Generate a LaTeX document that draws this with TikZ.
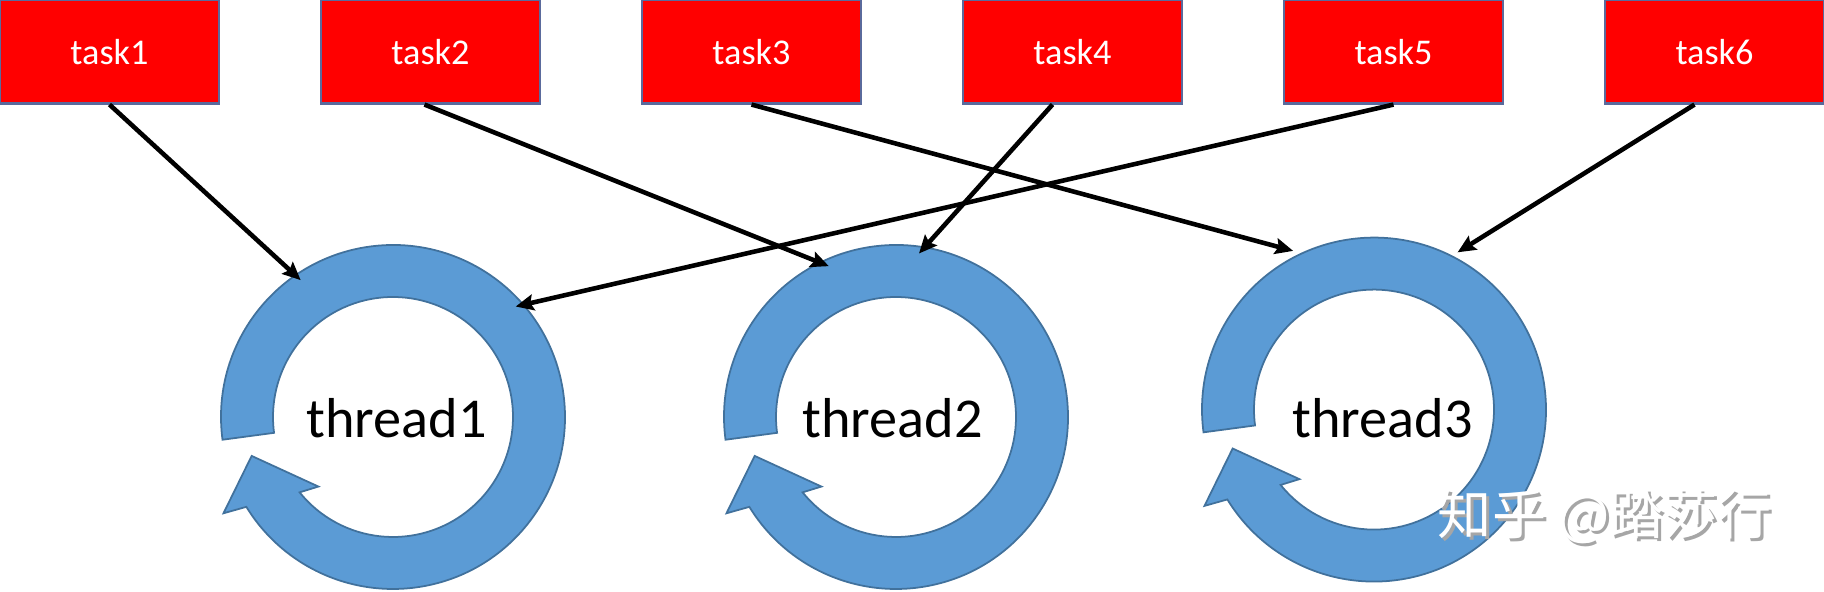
\documentclass[tikz,border=0pt]{standalone}
\usepackage{fontspec}
\setmainfont{Carlito}
\newfontfamily\cjk{Noto Sans CJK SC}
\usetikzlibrary{arrows.meta,positioning,calc}
\definecolor{taskRed}{HTML}{FF0000}
\definecolor{taskEdge}{HTML}{5A6A9C}
\definecolor{ringBlue}{HTML}{5B9BD5}
\definecolor{ringEdge}{HTML}{41719C}
\definecolor{markGray}{HTML}{A6A6A6}

\tikzset{
  cyclearrow/.pic={
    \path[fill=ringBlue,draw=ringEdge,line width=0.5pt]
      (187.6:172) arc[start angle=187.6,end angle=-148.5,radius=172]
      -- (209.6:195) -- (195.4:146.6) -- (223:102) -- (218.9:120)
      arc[start angle=-141.1,end angle=187.6,radius=120] -- cycle;
  }
}

\begin{document}
\begin{tikzpicture}[x=0.01cm,y=0.01cm,
    task/.style={draw=taskEdge,line width=0.6pt,fill=taskRed,text=white,
                 minimum width=2.19cm,minimum height=1.035cm,inner sep=0pt,
                 font=\fontsize{10.3}{12}\selectfont},
    ring/.style={circle,minimum size=3.3cm,inner sep=0pt,outer sep=0pt},
    threadtext/.style={font=\fontsize{16}{19}\selectfont,anchor=base,inner sep=0pt},
    feed/.style={line width=1.3pt,-{Stealth[length=0.18cm,width=0.16cm,inset=0.03cm]}}]

  \useasboundingbox (0,0) rectangle (1824,592);

  % tasks
  \node[task] (task1) at (109.5,540.25) {task1};
  \node[task] (task2) at (430.5,540.25) {task2};
  \node[task] (task3) at (751.5,540.25) {task3};
  \node[task] (task4) at (1072.5,540.25) {task4};
  \node[task] (task5) at (1393.5,540.25) {task5};
  \node[task] (task6) at (1714.5,540.25) {task6};

  % threads
  \pic at (393,175) {cyclearrow};
  \node[ring] (ring1) at (393,175) {};
  \node[threadtext] (thread1) at (396.5,154) {thread1};

  \pic at (896,175) {cyclearrow};
  \node[ring] (ring2) at (896,175) {};
  \node[threadtext] (thread2) at (892.5,154) {thread2};

  \pic at (1374,182.4) {cyclearrow};
  \node[ring,minimum size=3.56cm] (ring3) at (1374,182.4) {};
  \node[threadtext] (thread3) at (1382.5,154) {thread3};

  % task -> thread
  \draw[feed] (task1.south) -- (ring1.124);
  \draw[feed] ([xshift=-0.06cm]task2.south) -- (ring2.114);
  \draw[feed] (task3.south) -- (ring3.117);
  \draw[feed] ([xshift=-0.2cm]task4.south) -- (ring2.82);
  \draw[feed] (task5.south) -- (ring1.42);
  \draw[feed] ([xshift=-0.2cm]task6.south) -- (ring3.62);

  % watermark
  \node[font=\cjk\fontsize{15.4}{18}\selectfont,text=markGray] (markshadow) at (1608,73) {知乎 @踏莎行};
  \node[font=\cjk\fontsize{15.4}{18}\selectfont,text=white] (mark) at (1605,76) {知乎 @踏莎行};
\end{tikzpicture}
\end{document}
